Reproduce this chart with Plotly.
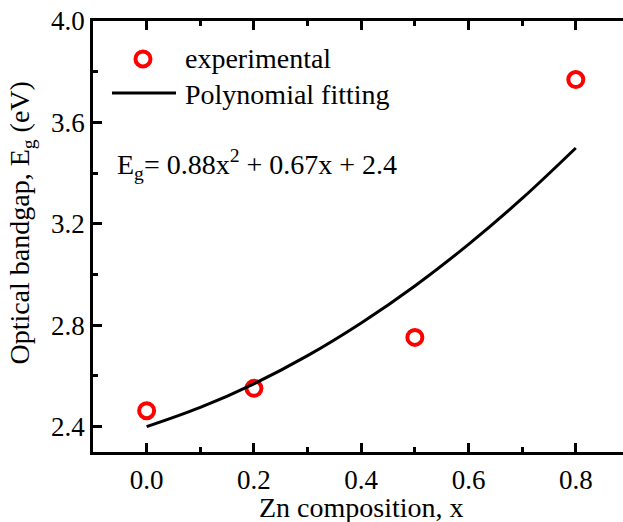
import plotly.graph_objects as go

# experimental data
x_exp = [0.0, 0.2, 0.5, 0.8]
eg_exp = [2.463, 2.551, 2.752, 3.769]

# polynomial fitting curve
x_fit = [0.0, 0.1, 0.2, 0.3, 0.4, 0.5, 0.6, 0.7, 0.8]
eg_fit = [2.400, 2.476, 2.569, 2.680, 2.809, 2.955, 3.119, 3.300, 3.499]

legend_labels = ["experimental", "Polynomial fitting"]

FONT = "Liberation Serif"
RED = "#ff0000"

fig = go.Figure()
fig.add_trace(go.Scatter(
    x=x_exp, y=eg_exp, mode="markers", name=legend_labels[0],
    marker=dict(symbol="circle-open", size=15, color=RED,
                line=dict(width=4, color=RED)),
    showlegend=False,
))
fig.add_trace(go.Scatter(
    x=x_fit, y=eg_fit, mode="lines", name=legend_labels[1],
    line=dict(color="black", width=3, shape="spline"),
    showlegend=False,
))

# manual legend (longer line sample like the reference)
fig.add_shape(type="circle", xref="paper", yref="paper",
              xsizemode="pixel", ysizemode="pixel", xanchor=0.0943, yanchor=0.912,
              x0=-7.5, x1=7.5, y0=-7.5, y1=7.5, line=dict(color=RED, width=4))
fig.add_shape(type="line", xref="paper", yref="paper",
              x0=0.0358, x1=0.1566, y0=0.833, y1=0.833, line=dict(color="black", width=3))
fig.add_annotation(x=0.1698, y=0.914, xref="paper", yref="paper", xanchor="left", yanchor="middle",
                   text=legend_labels[0], showarrow=False,
                   font=dict(family=FONT, size=28, color="black"))
fig.add_annotation(x=0.1698, y=0.83, xref="paper", yref="paper", xanchor="left", yanchor="middle",
                   text=legend_labels[1], showarrow=False,
                   font=dict(family=FONT, size=28, color="black"))

fig.add_annotation(
    x=0.041, y=0.668, xref="paper", yref="paper", xanchor="left", yanchor="middle",
    text="E<sub>g</sub>= 0.88x<sup>2</sup> + 0.67x + 2.4",
    showarrow=False, font=dict(family=FONT, size=28, color="black"),
)
fig.add_annotation(
    x=0.506, y=-0.128, xref="paper", yref="paper", xanchor="center", yanchor="middle",
    text="Zn composition, x",
    showarrow=False, font=dict(family=FONT, size=28, color="black"),
)
fig.add_annotation(
    x=-0.135, y=0.531, xref="paper", yref="paper", xanchor="center", yanchor="middle",
    text="Optical bandgap, E<sub>g</sub> (eV)", textangle=-90,
    showarrow=False, font=dict(family=FONT, size=28, color="black"),
)

axis_common = dict(
    showline=True, linecolor="black", linewidth=2.5,
    ticks="inside", ticklen=9, tickwidth=2.5, tickcolor="black",
    showgrid=False, zeroline=False, automargin=False,
    tickfont=dict(family=FONT, size=27, color="black"),
)

fig.update_xaxes(
    range=[-0.1, 0.888], tickvals=[0.0, 0.2, 0.4, 0.6, 0.8],
    ticktext=["0.0", "0.2", "0.4", "0.6", "0.8"],
    mirror="allticks", ticklabelstandoff=2,
    minor=dict(dtick=0.1, tick0=0, ticks="inside", ticklen=5, tickwidth=2.5, tickcolor="black"),
    **axis_common,
)
fig.update_yaxes(
    range=[2.3, 4.0], tickvals=[2.4, 2.8, 3.2, 3.6, 4.0],
    ticktext=["2.4", "2.8", "3.2", "3.6", "4.0"],
    minor=dict(dtick=0.2, tick0=2.4, ticks="inside", ticklen=5, tickwidth=2.5, tickcolor="black"),
    **axis_common,
)

fig.update_layout(
    width=623, height=522,
    margin=dict(l=93, r=0, t=21, b=70),
    plot_bgcolor="white", paper_bgcolor="white",
    font=dict(family=FONT, color="black"),
    showlegend=False,
)

fig.write_html("out.html", config={"displayModeBar": False},
               post_script="document.body.style.margin='0';")
